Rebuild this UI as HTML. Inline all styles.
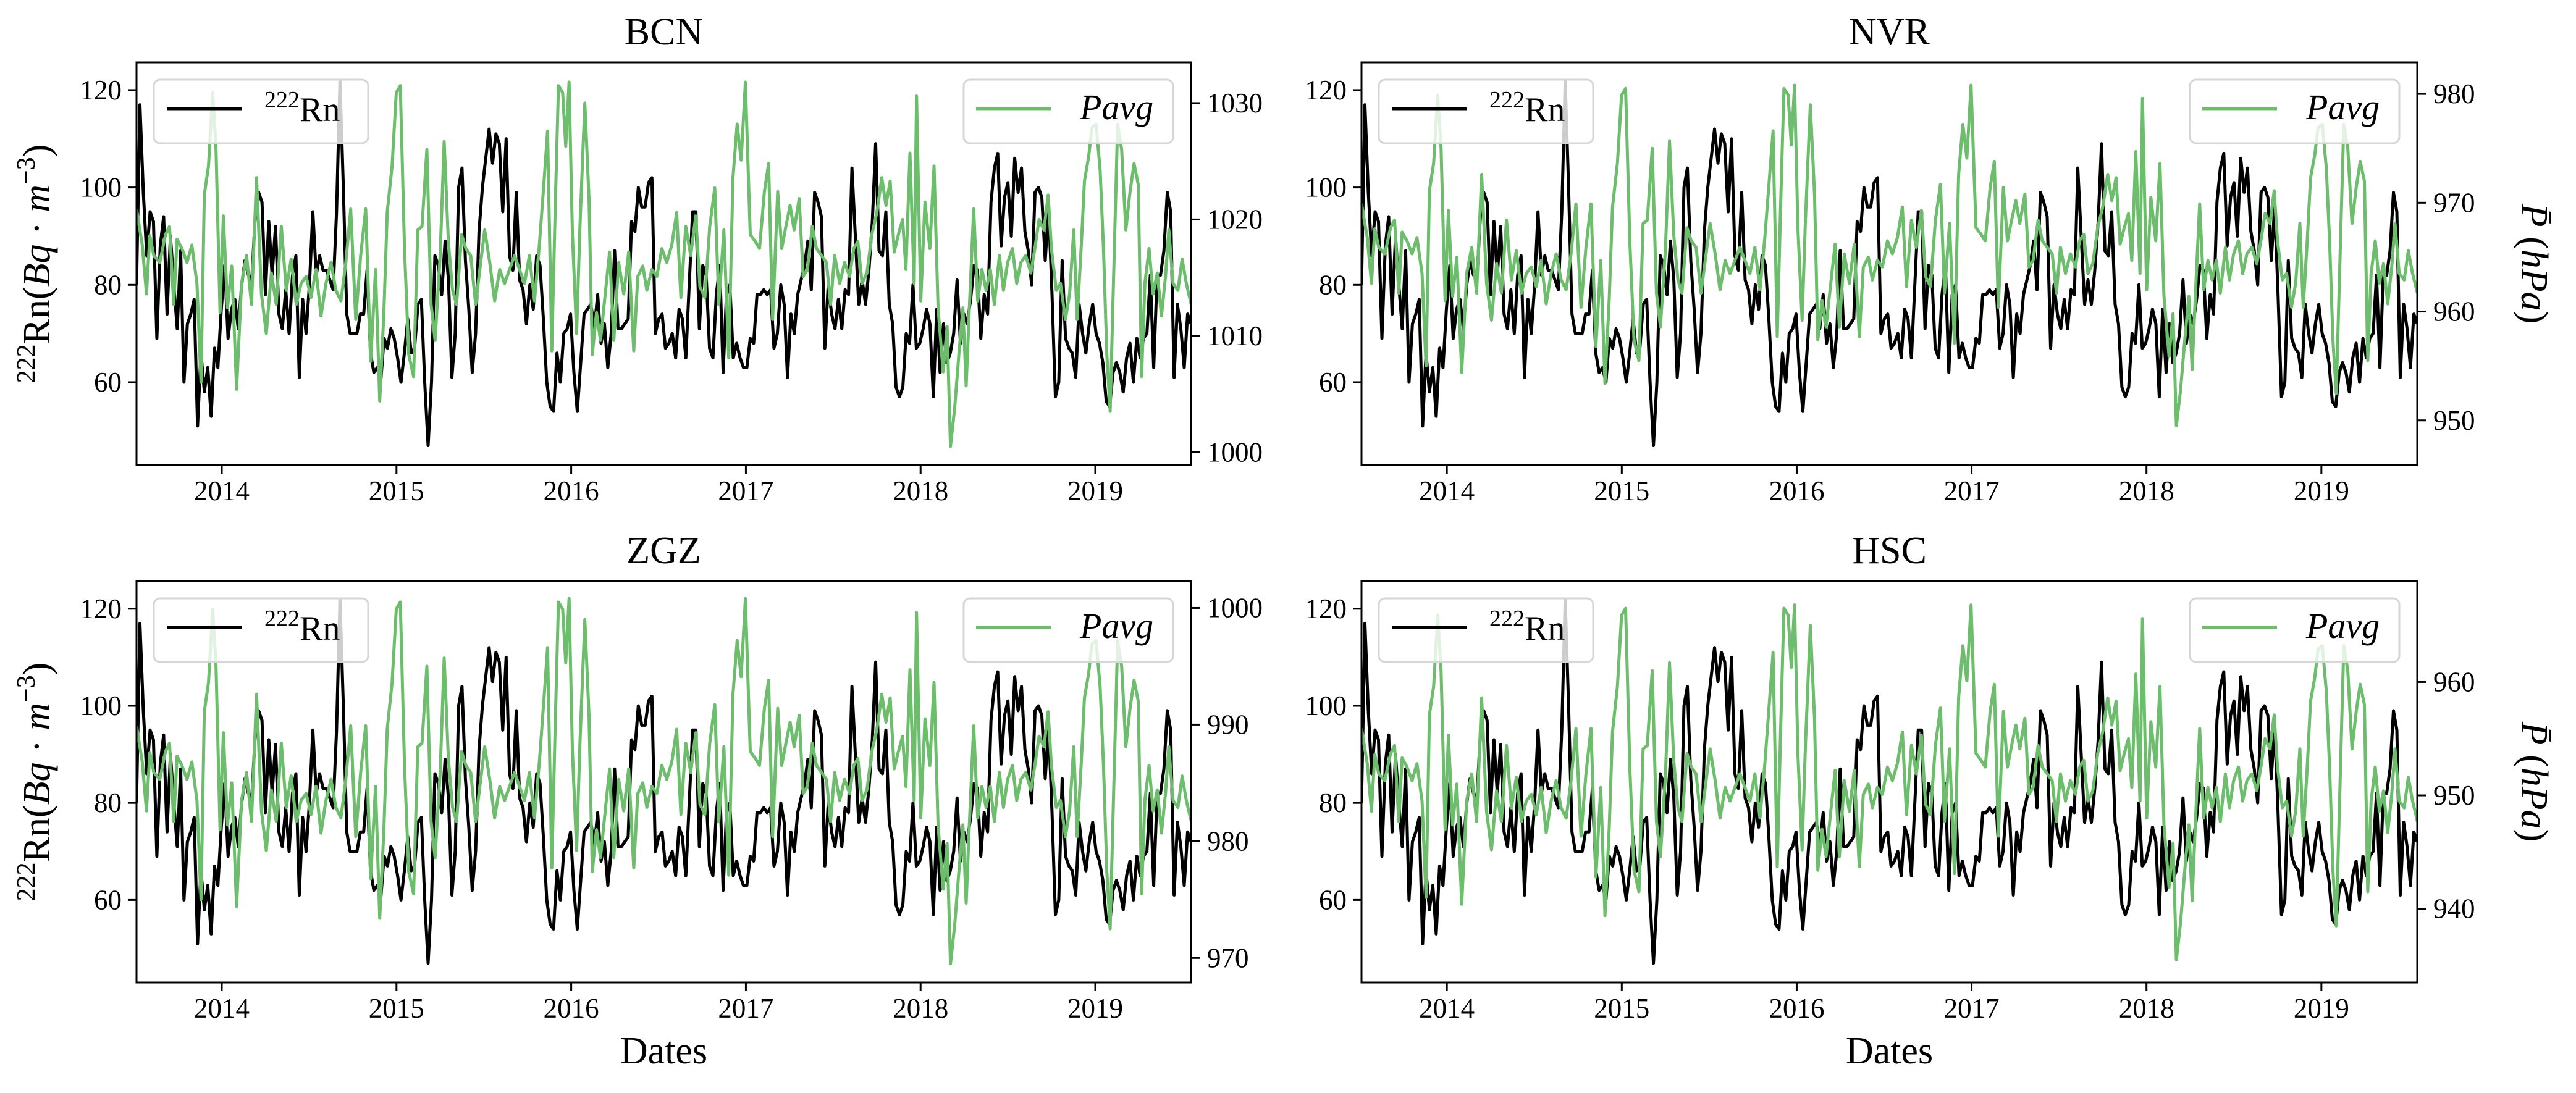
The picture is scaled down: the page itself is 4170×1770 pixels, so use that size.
<!DOCTYPE html>
<html><head><meta charset="utf-8"><style>
html,body{margin:0;padding:0;background:#fff}
svg{display:block;font-family:"Liberation Serif",serif}
</style></head><body>
<svg id="fig" width="4170" height="1770" viewBox="0 0 4170 1770" xmlns="http://www.w3.org/2000/svg"></svg>
<script>
const yearTicks=[2014,2015,2016,2017,2018,2019];
const rnTicks=[60,80,100,120];
const tStart=2013.512, tEnd=2019.548;
const rnVals=[80,117,99,86,95,93,69,88,94,74,90,80,71,87,60,72,74,77,51,66,58,63,53,67,63,75,84,69,75,77,71,80,85,82,81,94,99,97,78,93,82,92,74,71,79,70,82,86,61,77,70,80,95,82,86,83,83,81,79,95,122,100,74,70,70,70,74,74,83,66,62,63,60,69,67,71,69,65,60,66,73,66,67,76,77,60,47,60,86,84,78,89,81,61,70,100,104,85,75,62,70,91,100,106,112,105,111,109,95,110,86,83,99,81,79,72,80,75,86,84,73,60,55,54,66,60,70,71,74,62,54,64,74,75,76,71,78,68,72,63,70,87,71,71,72,73,93,91,100,96,96,101,102,70,73,74,67,68,70,65,75,73,65,80,95,95,71,84,82,67,65,78,84,62,78,80,65,68,65,63,63,69,68,78,78,79,78,79,67,70,80,76,61,74,70,78,81,84,89,79,99,97,94,67,80,74,71,77,71,79,78,104,90,76,81,76,83,93,109,87,86,95,76,72,59,57,59,70,68,80,67,68,71,75,72,57,75,62,72,64,66,70,81,68,74,72,77,84,83,69,78,74,97,104,107,88,98,101,90,106,99,104,91,87,80,99,100,98,85,96,78,57,60,85,69,67,66,61,76,70,66,72,76,70,68,64,56,55,62,64,62,58,65,68,60,69,65,69,70,82,63,82,82,87,99,95,61,76,71,63,74,72];
// pressure sample times, years since series start
const pTimeYr=[0,.033,.057,.076,.099,.133,.166,.189,.213,.232,.260,.289,.317,.346,.369,.388,.412,.436,.455,.478,.497,.521,.545,.573,.601,.630,.658,.687,.715,.743,.772,.800,.829,.857,.885,.914,.942,.971,.999,1.027,1.056,1.084,1.113,1.141,1.170,1.198,1.226,1.255,1.283,1.312,1.340,1.368,1.392,1.416,1.435,1.463,1.487,1.510,1.534,1.558,1.586,1.610,1.634,1.662,1.686,1.709,1.738,1.761,1.785,1.809,1.832,1.861,1.885,1.913,1.941,1.965,1.993,2.022,2.050,2.079,2.107,2.135,2.164,2.192,2.221,2.249,2.278,2.306,2.334,2.353,2.377,2.396,2.415,2.439,2.457,2.476,2.495,2.519,2.538,2.566,2.590,2.609,2.633,2.656,2.685,2.708,2.732,2.760,2.789,2.817,2.846,2.869,2.898,2.921,2.950,2.978,3.007,3.035,3.064,3.092,3.116,3.144,3.172,3.201,3.225,3.253,3.281,3.310,3.333,3.362,3.390,3.414,3.438,3.461,3.485,3.513,3.542,3.566,3.594,3.618,3.641,3.670,3.693,3.717,3.741,3.764,3.793,3.816,3.840,3.868,3.892,3.921,3.949,3.973,3.996,4.025,4.053,4.082,4.105,4.129,4.153,4.181,4.209,4.238,4.266,4.290,4.314,4.337,4.361,4.385,4.404,4.427,4.451,4.465,4.489,4.513,4.541,4.565,4.588,4.617,4.640,4.659,4.683,4.707,4.730,4.749,4.768,4.792,4.815,4.839,4.863,4.887,4.910,4.939,4.962,4.986,5.014,5.038,5.062,5.090,5.119,5.142,5.166,5.194,5.218,5.237,5.265,5.289,5.317,5.341,5.365,5.384,5.407,5.426,5.450,5.469,5.493,5.516,5.535,5.554,5.573,5.592,5.616,5.639,5.663,5.687,5.710,5.734,5.753,5.772,5.796,5.819,5.843,5.867,5.890,5.909,5.933,5.961,5.985,6.009,6.037];
const pBCN=[1020.9,1017.8,1013.6,1018.6,1016.9,1016.3,1018.7,1019.4,1012.7,1018.3,1017.5,1016.3,1017.8,1014.5,1006,1022.1,1024.6,1030.9,1026,1012,1020.3,1012.4,1016,1005.4,1014.5,1016.9,1012.7,1023.6,1013.6,1010.2,1015.4,1012.7,1019.4,1013.9,1016.6,1012.7,1014.5,1015.1,1013.3,1015.7,1011.7,1014.5,1016.3,1013.9,1013,1016.3,1020.9,1011.4,1016.9,1020.9,1007.8,1015.7,1004.4,1012,1020.6,1024.6,1030.9,1031.5,1017.5,1008.4,1006.5,1019.1,1019.4,1026,1012.7,1009.6,1016.9,1026.7,1018.1,1013.9,1012.7,1018.7,1017.5,1016.9,1012.7,1015.7,1019.1,1016.3,1013,1015.7,1014.5,1015.7,1016.9,1015.7,1014.5,1016.9,1013,1017.8,1023.6,1027.6,1008.7,1020.6,1031.5,1030.9,1026.3,1031.8,1018.7,1010.2,1019.4,1030,1021.8,1008.4,1012,1009.6,1013.9,1017.2,1009.6,1016.3,1013.6,1017.2,1008.7,1015.1,1016,1013.9,1015.7,1015.1,1017.5,1016.3,1017.8,1020.6,1013.3,1019.4,1016.9,1020.3,1014.2,1013.3,1019.4,1022.7,1012.7,1019.1,1008.1,1023.6,1028.2,1025.1,1031.8,1018.7,1018.1,1017.5,1022.4,1024.8,1011.4,1022.4,1017.5,1019.4,1021.2,1019.1,1021.8,1015.1,1015.7,1019.4,1017.5,1016.9,1016.3,1012.7,1016.9,1014.5,1016.3,1015.1,1017.5,1018.1,1014.5,1015.4,1018.7,1020.6,1023.6,1021.2,1023.3,1017.2,1018.7,1020,1015.7,1025.7,1014.5,1030.6,1013,1021.5,1017.5,1024.6,1012.4,1006.9,1010.8,1000.5,1003.8,1008.4,1012.4,1005.7,1012.7,1020.9,1013,1015.7,1013.9,1015.7,1012.7,1016.9,1013.9,1016.3,1017.5,1014.5,1016.3,1016.9,1015.4,1017.5,1020,1019.1,1022.1,1017.5,1013.9,1014.5,1011.4,1013.6,1019.1,1011.4,1017.5,1023.3,1025.4,1027.9,1028.2,1024.2,1017.5,1008.4,1003.5,1014.5,1028.2,1026,1019.1,1022.4,1024.8,1023,1006.5,1014.5,1017.5,1013.6,1015.4,1011.7,1015.1,1019.1,1014.5,1013.9,1016.6,1014.5,1012.7];
const pNVR=[969.9,966.8,962.6,967.6,965.9,965.3,967.7,968.4,961.7,967.3,966.5,965.3,966.8,963.5,955,971.1,973.6,979.9,975,961,969.3,961.4,965,954.4,963.5,965.9,961.7,972.6,962.6,959.2,964.4,961.7,968.4,962.9,965.6,961.7,963.5,964.1,962.3,964.7,960.7,963.5,965.3,962.9,962,965.3,969.9,960.4,965.9,969.9,956.8,964.7,953.4,961,969.6,973.6,979.9,980.5,966.5,957.4,955.5,968.1,968.4,975,961.7,958.6,965.9,975.7,967.1,962.9,961.7,967.7,966.5,965.9,961.7,964.7,968.1,965.3,962,964.7,963.5,964.7,965.9,964.7,963.5,965.9,962,966.8,972.6,976.6,957.7,969.6,980.5,979.9,975.3,980.8,967.7,959.2,968.4,979,970.8,957.4,961,958.6,962.9,966.2,958.6,965.3,962.6,966.2,957.7,964.1,965,962.9,964.7,964.1,966.5,965.3,966.8,969.6,962.3,968.4,965.9,969.3,963.2,962.3,968.4,971.7,961.7,968.1,957.1,972.6,977.2,974.1,980.8,967.7,967.1,966.5,971.4,973.8,960.4,971.4,966.5,968.4,970.2,968.1,970.8,964.1,964.7,968.4,966.5,965.9,965.3,961.7,965.9,963.5,965.3,964.1,966.5,967.1,963.5,964.4,967.7,969.6,972.6,970.2,972.3,966.2,967.7,969,964.7,974.7,963.5,979.6,962,970.5,966.5,973.6,961.4,955.9,959.8,949.5,952.8,957.4,961.4,954.7,961.7,969.9,962,964.7,962.9,964.7,961.7,965.9,962.9,965.3,966.5,963.5,965.3,965.9,964.4,966.5,969,968.1,971.1,966.5,962.9,963.5,960.4,962.6,968.1,960.4,966.5,972.3,974.4,976.9,977.2,973.2,966.5,957.4,952.5,963.5,977.2,975,968.1,971.4,973.8,972,955.5,963.5,966.5,962.6,964.4,960.7,964.1,968.1,963.5,962.9,965.6,963.5,961.7];
const pZGZ=[989.9,986.8,982.6,987.6,985.9,985.3,987.7,988.4,981.7,987.3,986.5,985.3,986.8,983.5,975,991.1,993.6,999.9,995,981,989.3,981.4,985,974.4,983.5,985.9,981.7,992.6,982.6,979.2,984.4,981.7,988.4,982.9,985.6,981.7,983.5,984.1,982.3,984.7,980.7,983.5,985.3,982.9,982,985.3,989.9,980.4,985.9,989.9,976.8,984.7,973.4,981,989.6,993.6,999.9,1000.5,986.5,977.4,975.5,988.1,988.4,995,981.7,978.6,985.9,995.7,987.1,982.9,981.7,987.7,986.5,985.9,981.7,984.7,988.1,985.3,982,984.7,983.5,984.7,985.9,984.7,983.5,985.9,982,986.8,992.6,996.6,977.7,989.6,1000.5,999.9,995.3,1000.8,987.7,979.2,988.4,999,990.8,977.4,981,978.6,982.9,986.2,978.6,985.3,982.6,986.2,977.7,984.1,985,982.9,984.7,984.1,986.5,985.3,986.8,989.6,982.3,988.4,985.9,989.3,983.2,982.3,988.4,991.7,981.7,988.1,977.1,992.6,997.2,994.1,1000.8,987.7,987.1,986.5,991.4,993.8,980.4,991.4,986.5,988.4,990.2,988.1,990.8,984.1,984.7,988.4,986.5,985.9,985.3,981.7,985.9,983.5,985.3,984.1,986.5,987.1,983.5,984.4,987.7,989.6,992.6,990.2,992.3,986.2,987.7,989,984.7,994.7,983.5,999.6,982,990.5,986.5,993.6,981.4,975.9,979.8,969.5,972.8,977.4,981.4,974.7,981.7,989.9,982,984.7,982.9,984.7,981.7,985.9,982.9,985.3,986.5,983.5,985.3,985.9,984.4,986.5,989,988.1,991.1,986.5,982.9,983.5,980.4,982.6,988.1,980.4,986.5,992.3,994.4,996.9,997.2,993.2,986.5,977.4,972.5,983.5,997.2,995,988.1,991.4,993.8,992,975.5,983.5,986.5,982.6,984.4,980.7,984.1,988.1,983.5,982.9,985.6,983.5,981.7];
const pHSC=[955.9,952.8,948.6,953.6,951.9,951.3,953.7,954.4,947.7,953.3,952.5,951.3,952.8,949.5,941,957.1,959.6,965.9,961,947,955.3,947.4,951,940.4,949.5,951.9,947.7,958.6,948.6,945.2,950.4,947.7,954.4,948.9,951.6,947.7,949.5,950.1,948.3,950.7,946.7,949.5,951.3,948.9,948,951.3,955.9,946.4,951.9,955.9,942.8,950.7,939.4,947,955.6,959.6,965.9,966.5,952.5,943.4,941.5,954.1,954.4,961,947.7,944.6,951.9,961.7,953.1,948.9,947.7,953.7,952.5,951.9,947.7,950.7,954.1,951.3,948,950.7,949.5,950.7,951.9,950.7,949.5,951.9,948,952.8,958.6,962.6,943.7,955.6,966.5,965.9,961.3,966.8,953.7,945.2,954.4,965,956.8,943.4,947,944.6,948.9,952.2,944.6,951.3,948.6,952.2,943.7,950.1,951,948.9,950.7,950.1,952.5,951.3,952.8,955.6,948.3,954.4,951.9,955.3,949.2,948.3,954.4,957.7,947.7,954.1,943.1,958.6,963.2,960.1,966.8,953.7,953.1,952.5,957.4,959.8,946.4,957.4,952.5,954.4,956.2,954.1,956.8,950.1,950.7,954.4,952.5,951.9,951.3,947.7,951.9,949.5,951.3,950.1,952.5,953.1,949.5,950.4,953.7,955.6,958.6,956.2,958.3,952.2,953.7,955,950.7,960.7,949.5,965.6,948,956.5,952.5,959.6,947.4,941.9,945.8,935.5,938.8,943.4,947.4,940.7,947.7,955.9,948,950.7,948.9,950.7,947.7,951.9,948.9,951.3,952.5,949.5,951.3,951.9,950.4,952.5,955,954.1,957.1,952.5,948.9,949.5,946.4,948.6,954.1,946.4,952.5,958.3,960.4,962.9,963.2,959.2,952.5,943.4,938.5,949.5,963.2,961,954.1,957.4,959.8,958,941.5,949.5,952.5,948.6,950.4,946.7,950.1,954.1,949.5,948.9,951.6,949.5,947.7];
const ticksBCN=[1000,1010,1020,1030];
const ticksNVR=[950,960,970,980];
const ticksZGZ=[970,980,990,1000];
const ticksHSC=[940,950,960];

const NS="http://www.w3.org/2000/svg";
const svg=document.getElementById('fig');
function mk(tag,attrs,parent){const e=document.createElementNS(NS,tag);for(const k in attrs)e.setAttribute(k,attrs[k]);(parent||svg).appendChild(e);return e;}

const panels=[
 {name:'bcn',title:'BCN',x0:221,x1:1928,y0:101,y1:753,p:pBCN,pt:ticksBCN,pmin:998.9,pmax:1033.5,leftLabel:true,rightLabel:false,dates:false},
 {name:'nvr',title:'NVR',x0:2204,x1:3913,y0:101,y1:753,p:pNVR,pt:ticksNVR,pmin:945.9,pmax:982.9,leftLabel:false,rightLabel:true,dates:false},
 {name:'zgz',title:'ZGZ',x0:221,x1:1928,y0:941,y1:1591,p:pZGZ,pt:ticksZGZ,pmin:967.9,pmax:1002.3,leftLabel:true,rightLabel:false,dates:true},
 {name:'hsc',title:'HSC',x0:2204,x1:3913,y0:941,y1:1591,p:pHSC,pt:ticksHSC,pmin:933.5,pmax:968.9,leftLabel:false,rightLabel:true,dates:true}
];
const rnMin=43.0, rnMax=125.7;

panels.forEach(P=>{
  const g=mk('g',{});
  
  
  const xs=t=>P.x0+(t-tStart)/(tEnd-tStart)*(P.x1-P.x0);
  const yr=v=>P.y1-(v-rnMin)/(rnMax-rnMin)*(P.y1-P.y0);
  const yp=v=>P.y1-(v-P.pmin)/(P.pmax-P.pmin)*(P.y1-P.y0);
  const clipId='clip-'+P.name;
  const cp=mk('clipPath',{id:clipId},g);
  mk('rect',{x:P.x0,y:P.y0,width:P.x1-P.x0,height:P.y1-P.y0},cp);
  const tt=mk('text',{x:(P.x0+P.x1)/2,y:P.y0-29,'font-size':62,'text-anchor':'middle'},g);
  tt.textContent=P.title;
  
  
  let d='';
  rnVals.forEach((v,i)=>{const t=tStart+i/(rnVals.length-1)*(tEnd-tStart);d+=(i?'L':'M')+xs(t).toFixed(1)+','+yr(v).toFixed(1);});
  const rl=mk('path',{d:d,fill:'none',stroke:'#000','stroke-width':5,'stroke-linejoin':'round','clip-path':'url(#'+clipId+')'},g);
  
  
  let d2='';
  const n=Math.min(P.p.length,pTimeYr.length);
  for(let i=0;i<n;i++){const t=tStart+pTimeYr[i];d2+=(i?'L':'M')+xs(t).toFixed(1)+','+yp(P.p[i]).toFixed(1);}
  const pl=mk('path',{d:d2,fill:'none',stroke:'#6cbd6c','stroke-width':5,'stroke-linejoin':'round','clip-path':'url(#'+clipId+')'},g);
  
  
  const fr=mk('rect',{x:P.x0,y:P.y0,width:P.x1-P.x0,height:P.y1-P.y0,fill:'none',stroke:'#000','stroke-width':3},g);
  
  
  yearTicks.forEach(y=>{
    const x=xs(y);
    mk('line',{x1:x,x2:x,y1:P.y1,y2:P.y1+14,stroke:'#000','stroke-width':3},g);
    const t=mk('text',{x:x,y:P.y1+57,'font-size':45,'text-anchor':'middle'},g);
    t.textContent=y;
    
    
  });
  rnTicks.forEach(v=>{
    const y=yr(v);
    mk('line',{x1:P.x0-14,x2:P.x0,y1:y,y2:y,stroke:'#000','stroke-width':3},g);
    const t=mk('text',{x:P.x0-24,y:y+15,'font-size':45,'text-anchor':'end'},g);
    t.textContent=v;
    
    
  });
  P.pt.forEach(v=>{
    const y=yp(v);
    mk('line',{x1:P.x1,x2:P.x1+14,y1:y,y2:y,stroke:'#000','stroke-width':3},g);
    const t=mk('text',{x:P.x1+26,y:y+15,'font-size':45,'text-anchor':'start'},g);
    t.textContent=v;
    
    
  });
  const lg1=mk('g',{},g);
  
  
  mk('rect',{x:P.x0+28,y:P.y0+28,width:347,height:103,rx:10,fill:'#fff','fill-opacity':0.8,stroke:'#d6d6d6','stroke-width':3},lg1);
  mk('line',{x1:P.x0+49,x2:P.x0+171,y1:P.y0+75,y2:P.y0+75,stroke:'#000','stroke-width':5},lg1);
  const l1=mk('text',{x:P.x0+207,y:P.y0+95,'font-size':56},lg1);
  l1.innerHTML='<tspan font-size="38" dy="-22">222</tspan><tspan dy="22">Rn</tspan>';
  const lg2=mk('g',{},g);
  
  
  mk('rect',{x:P.x1-368,y:P.y0+28,width:339,height:103,rx:10,fill:'#fff','fill-opacity':0.8,stroke:'#d6d6d6','stroke-width':3},lg2);
  mk('line',{x1:P.x1-348,x2:P.x1-227,y1:P.y0+75,y2:P.y0+75,stroke:'#6cbd6c','stroke-width':5},lg2);
  const l2=mk('text',{x:P.x1-180,y:P.y0+92,'font-size':58,'font-style':'italic'},lg2);
  l2.textContent='Pavg';
  const cy=(P.y0+P.y1)/2;
  if(P.leftLabel){
    const t=mk('text',{x:0,y:0,'font-size':62,'text-anchor':'middle',transform:'translate(80,'+cy+') rotate(-90)'},g);
    t.innerHTML='<tspan font-size="42" dy="-24">222</tspan><tspan dy="24">Rn(</tspan><tspan font-style="italic">Bq</tspan><tspan> · </tspan><tspan font-style="italic">m</tspan><tspan font-size="42" dy="-24">−3</tspan><tspan dy="24">)</tspan>';
    
    
  }
  if(P.rightLabel){
    const t=mk('text',{x:0,y:0,'font-size':62,'text-anchor':'middle',transform:'translate(4082,'+cy+') rotate(90)'},g);
    t.innerHTML='<tspan font-style="italic">P̄</tspan><tspan> (</tspan><tspan font-style="italic">hPa</tspan><tspan>)</tspan>';
    
    
  }
  if(P.dates){
    const t=mk('text',{x:(P.x0+P.x1)/2,y:1722,'font-size':62,'text-anchor':'middle'},g);
    t.textContent='Dates';
    
    
  }
});
</script>
</body></html>
